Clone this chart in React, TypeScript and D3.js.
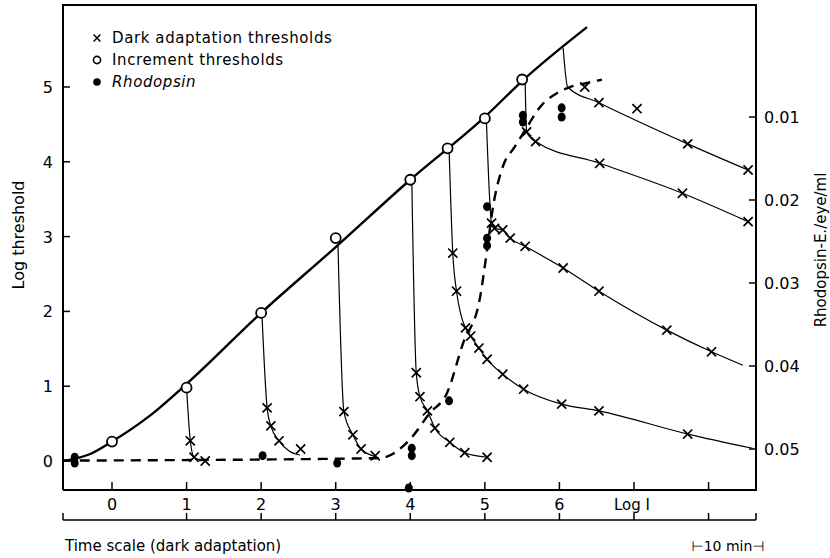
import * as d3 from 'd3';

// log I (x) vs log threshold (y) -- increment threshold line and its open circles
const incrementLine: [number, number][] = [
  [-0.66, 0.0], [-0.3, 0.09], [0, 0.26], [0.5, 0.6], [1, 1.03], [2, 1.98],
  [3, 2.86], [4, 3.76], [5, 4.6], [5.5, 5.08], [6.37, 5.8],
];
const incrementCircles: [number, number][] = [
  [0, 0.26], [1, 0.98], [2, 1.98], [3, 2.98], [4, 3.76], [4.5, 4.18], [5, 4.58], [5.5, 5.1],
];

// dark adaptation curves, one per adapting intensity
const darkA: [number, number][] = [[1.0, 0.98], [1.05, 0.27], [1.1, 0.05], [1.25, 0.0]];
const darkB: [number, number][] = [[2.01, 1.98], [2.08, 0.71], [2.13, 0.47], [2.24, 0.27], [2.38, 0.13], [2.52, 0.08]];
const darkC: [number, number][] = [[3.03, 2.9], [3.11, 0.66], [3.23, 0.35], [3.34, 0.16], [3.53, 0.06]];
const darkD: [number, number][] = [[4.02, 3.76], [4.08, 1.18], [4.13, 0.86], [4.23, 0.67], [4.33, 0.44], [4.53, 0.25], [4.73, 0.11], [5.03, 0.05]];
const darkE: [number, number][] = [[4.52, 4.18], [4.57, 2.78], [4.62, 2.27], [4.68, 1.95], [4.74, 1.78], [4.81, 1.67], [4.92, 1.51], [5.03, 1.36], [5.24, 1.16], [5.52, 0.96], [6.03, 0.76], [6.53, 0.67], [7.72, 0.36], [8.59, 0.17]];
const darkF: [number, number][] = [[5.02, 4.58], [5.09, 3.18], [5.13, 3.11], [5.24, 3.09], [5.34, 2.98], [5.54, 2.87], [6.05, 2.58], [6.53, 2.27], [7.44, 1.75], [8.04, 1.46], [8.46, 1.28]];
const darkG: [number, number][] = [[5.54, 5.1], [5.56, 4.4], [5.68, 4.27], [6.54, 3.98], [7.65, 3.58], [8.53, 3.2]];
const darkH: [number, number][] = [[6.05, 5.52], [6.11, 5.0], [6.53, 4.79], [7.72, 4.24], [8.53, 3.89]];
const darkCurves = [darkA, darkB, darkC, darkD, darkE, darkF, darkG, darkH];

const darkCrosses: [number, number][] = [
  [1.05, 0.27], [1.1, 0.05], [1.25, 0.0],
  [2.08, 0.71], [2.13, 0.47], [2.24, 0.27], [2.53, 0.16],
  [3.11, 0.66], [3.23, 0.35], [3.34, 0.16], [3.53, 0.07],
  [4.08, 1.18], [4.13, 0.86], [4.23, 0.67], [4.33, 0.44], [4.53, 0.25], [4.73, 0.11], [5.03, 0.05],
  [4.57, 2.78], [4.62, 2.27], [4.74, 1.78], [4.81, 1.67], [4.92, 1.51], [5.03, 1.36], [5.24, 1.16], [5.52, 0.96], [6.03, 0.76], [6.53, 0.67], [7.72, 0.36],
  [5.09, 3.18], [5.13, 3.11], [5.24, 3.09], [5.34, 2.98], [5.54, 2.87], [6.05, 2.58], [6.53, 2.27], [7.44, 1.75], [8.04, 1.46],
  [5.56, 4.4], [5.68, 4.27], [6.54, 3.98], [7.65, 3.58], [8.53, 3.2],
  [6.34, 5.0], [6.53, 4.79], [7.04, 4.71], [7.72, 4.24], [8.53, 3.89],
];

// rhodopsin (E/eye/ml, right axis)
const rhodopsinDots: [number, number][] = [
  [-0.5, 0.051], [-0.5, 0.0517], [2.02, 0.0508], [3.02, 0.0517], [4.02, 0.0499], [4.02, 0.0508],
  [3.98, 0.0547], [4.52, 0.0442], [5.03, 0.0208], [5.03, 0.0246], [5.03, 0.0255],
  [5.51, 0.0098], [5.51, 0.0106], [6.03, 0.0089], [6.03, 0.01],
];
const rhodopsinCurve: [number, number][] = [
  [-0.66, 0.0514], [3.59, 0.0511], [3.99, 0.0489], [4.26, 0.0457], [4.49, 0.0433], [4.71, 0.0372],
  [4.93, 0.032], [5.03, 0.026], [5.11, 0.0208], [5.24, 0.016], [5.4, 0.0136], [5.56, 0.0113],
  [5.74, 0.0088], [5.97, 0.0071], [6.14, 0.0064], [6.37, 0.0059], [6.57, 0.0055],
];

const logITicks = [0, 1, 2, 3, 4, 5, 6, 7, 8];
const logILabels = ['0', '1', '2', '3', '4', '5', '6'];
const thresholdTicks = [0, 1, 2, 3, 4, 5];
const rhodopsinTicks = [0.01, 0.02, 0.03, 0.04, 0.05];
const timeTicks = [1, 2, 3, 4, 5, 6, 7, 8];

const font = '"DejaVu Sans", sans-serif';

export default function App() {
  const left = 63, right = 756, top = 5, bottom = 490, timeY = 520;
  const x = d3.scaleLinear().domain([0, 7]).range([112, 634]);
  const y = d3.scaleLinear().domain([0, 5]).range([461, 87]);
  const yR = d3.scaleLinear().domain([0.01, 0.05]).range([117, 449]);

  const thinLine = d3.line<[number, number]>().x(d => x(d[0])).y(d => y(d[1])).curve(d3.curveMonotoneX);
  const rhodLine = d3.line<[number, number]>().x(d => x(d[0])).y(d => yR(d[1])).curve(d3.curveMonotoneX);
  const cross = d3.symbol().type(d3.symbolX).size(56)();

  return (
    <svg width={830} height={558} style={{ position: 'absolute', left: 0, top: 0, background: '#fff' }} fontFamily={font}>
      {/* frame */}
      <path d={`M${left},${bottom}V${top}H${right}V${bottom}H${left}`} fill="none" stroke="#000" strokeWidth={2} />

      {/* left axis */}
      {thresholdTicks.map(t => (
        <g key={'yl' + t}>
          <line x1={left} x2={left + 7} y1={y(t)} y2={y(t)} stroke="#000" strokeWidth={1.5} />
          <text x={left - 10} y={y(t) + 6} textAnchor="end" fontSize={16}>{t}</text>
        </g>
      ))}
      <text transform={`translate(24,235) rotate(-90)`} textAnchor="middle" fontSize={16}>Log threshold</text>

      {/* right axis */}
      {rhodopsinTicks.map(t => (
        <g key={'yr' + t}>
          <line x1={right - 7} x2={right} y1={yR(t)} y2={yR(t)} stroke="#000" strokeWidth={1.5} />
          <text x={right + 8} y={yR(t) + 6} fontSize={16}>{t.toFixed(2)}</text>
        </g>
      ))}
      <text transform={`translate(826,250) rotate(-90)`} textAnchor="middle" fontSize={15}>Rhodopsin-E./eye/ml</text>

      {/* log I axis */}
      {logITicks.map(t => (
        <line key={'xt' + t} x1={x(t)} x2={x(t)} y1={bottom} y2={bottom - 8} stroke="#000" strokeWidth={1.5} />
      ))}
      {logILabels.map((l, i) => (
        <text key={'xl' + l} x={x(i)} y={bottom + 20} textAnchor="middle" fontSize={16}>{l}</text>
      ))}
      <text x={x(7) - 2} y={bottom + 20} textAnchor="middle" fontSize={15}>Log I</text>

      {/* time axis */}
      <line x1={left} x2={right} y1={timeY} y2={timeY} stroke="#000" strokeWidth={1.5} />
      <line x1={left} x2={left} y1={timeY - 7} y2={timeY} stroke="#000" strokeWidth={1.5} />
      <line x1={right} x2={right} y1={timeY - 7} y2={timeY} stroke="#000" strokeWidth={1.5} />
      {timeTicks.map(t => (
        <line key={'tt' + t} x1={x(t)} x2={x(t)} y1={timeY} y2={timeY - 7} stroke="#000" strokeWidth={1.5} />
      ))}
      <text x={left + 2} y={551} fontSize={15}>Time scale (dark adaptation)</text>
      <text x={728} y={551} textAnchor="middle" fontSize={14}>⊢10 min⊣</text>

      {/* rhodopsin dashed curve */}
      <path d={rhodLine(rhodopsinCurve) || ''} fill="none" stroke="#000" strokeWidth={2.4} strokeDasharray="10,7" />

      {/* increment threshold line */}
      <path d={thinLine(incrementLine) || ''} fill="none" stroke="#000" strokeWidth={2.4} />

      {/* dark adaptation curves */}
      {darkCurves.map((c, i) => (
        <path key={'dc' + i} d={thinLine(c) || ''} fill="none" stroke="#000" strokeWidth={1.2} />
      ))}

      {darkCrosses.map((d, i) => (
        <path key={'x' + i} d={cross || ''} transform={`translate(${x(d[0])},${y(d[1])})`} fill="none" stroke="#000" strokeWidth={1.7} />
      ))}
      {incrementCircles.map((d, i) => (
        <circle key={'o' + i} cx={x(d[0])} cy={y(d[1])} r={5} fill="#fff" stroke="#000" strokeWidth={1.8} />
      ))}
      {rhodopsinDots.map((d, i) => (
        <ellipse key={'r' + i} cx={x(d[0])} cy={yR(d[1])} rx={4} ry={4.5} fill="#000" />
      ))}

      {/* legend */}
      <g fontSize={15} letterSpacing={0.6}>
        <path d={cross || ''} transform="translate(97,38) scale(0.75)" fill="none" stroke="#000" strokeWidth={2} />
        <text x={112} y={43}>Dark adaptation thresholds</text>
        <circle cx={97} cy={60} r={3.6} fill="#fff" stroke="#000" strokeWidth={1.6} />
        <text x={112} y={65}>Increment thresholds</text>
        <circle cx={97} cy={82} r={3.8} fill="#000" />
        <text x={112} y={87} fontStyle="italic">Rhodopsin</text>
      </g>
    </svg>
  );
}
